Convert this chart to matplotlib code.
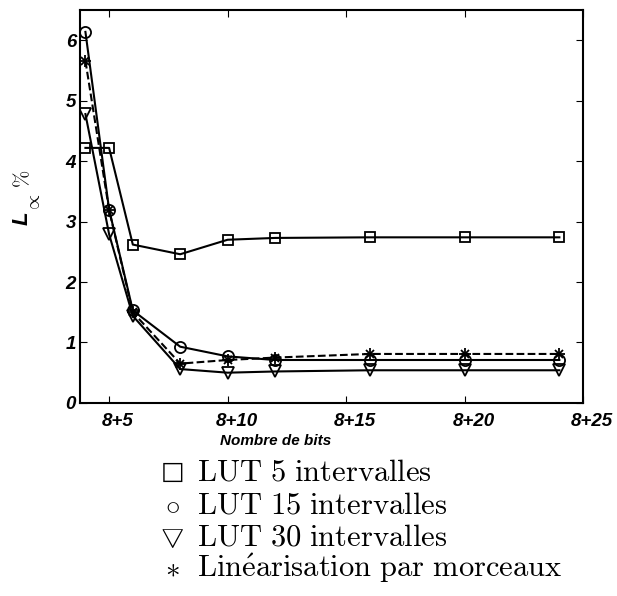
import matplotlib
matplotlib.use('Agg')
import matplotlib.pyplot as plt
import matplotlib.transforms as mtransforms

# Nombre de bits: 8 + n
bits = [4, 5, 6, 8, 10, 12, 16, 20, 24]
lut5 = [4.22, 4.22, 2.62, 2.46, 2.70, 2.73, 2.74, 2.74, 2.74]
lut15 = [6.14, 3.20, 1.53, 0.93, 0.77, 0.71, 0.71, 0.71, 0.71]
lut30 = [4.78, 2.79, 1.44, 0.56, 0.50, 0.52, 0.54, 0.54, 0.54]
lineaire = [5.66, 3.19, 1.50, 0.65, 0.71, 0.75, 0.81, 0.81, 0.81]

xticks = [5, 10, 15, 20, 25]
xtick_labels = ['8+5', '8+10', '8+15', '8+20', '8+25']
yticks = [0, 1, 2, 3, 4, 5, 6]

legend_labels = [r'$\mathrm{LUT\ 5\ intervalles}$',
                 r'$\mathrm{LUT\ 15\ intervalles}$',
                 r'$\mathrm{LUT\ 30\ intervalles}$',
                 r'$\mathrm{Lin\acute{e}arisation\ par\ morceaux}$']
legend_symbols = ['\u25a1', r'$\circ$', r'$\bigtriangledown$', r'$\ast$']
symbol_sizes = [18, 21, 19, 21]

plt.rcParams['mathtext.fontset'] = 'cm'
tick_font = dict(family='Liberation Sans', weight='bold', style='italic')

fig = plt.figure(figsize=(6.17, 5.96), dpi=100, facecolor='white')
ax = fig.add_axes([0.130, 0.324, 0.815, 0.659])

mk = dict(color='black', lw=1.5, mfc='none', mec='black', mew=1.3)
ax.plot(bits, lut5, marker='s', ms=7, **mk)
ax.plot(bits, lut15, marker='o', ms=8, **mk)
ax.plot(bits, lut30, marker='v', ms=8, **mk)
ax.plot(bits, lineaire, ls='--', **dict(color='black', lw=1.5))
ax.plot(bits, lineaire, ls='none', marker='+', ms=8, mew=1.3, color='black')
ax.plot(bits, lineaire, ls='none', marker='x', ms=6, mew=1.3, color='black')

ax.set_xlim(3.78, 25)
ax.set_ylim(0, 6.5)
ax.set_xticks(xticks)
ax.set_xticklabels(xtick_labels, fontsize=13.5, **tick_font)
ax.set_yticks(yticks)
ax.set_yticklabels([str(v) for v in yticks], fontsize=13.5, **tick_font)
ax.tick_params(direction='in', top=True, right=True, length=5, width=0.8)
ax.tick_params(axis='x', pad=7)
ax.tick_params(axis='y', pad=3)
shift = mtransforms.ScaledTranslation(0.09, 0, fig.dpi_scale_trans)
for lbl in ax.get_xticklabels():
    lbl.set_transform(lbl.get_transform() + shift)
for s in ax.spines.values():
    s.set_linewidth(1.5)

# y label: L (bold italic) with serif subscript and percent
fig.text(0.036, 0.634, 'L', rotation=90, fontsize=16, ha='center', va='center',
         **tick_font)
fig.text(0.056, 0.659, r'$\propto$', rotation=90, fontsize=14,
         ha='center', va='center')
fig.text(0.037, 0.700, r'$\%$', rotation=90, fontsize=15,
         ha='center', va='center')

fig.text(0.446, 0.26, 'Nombre de bits', fontsize=11, ha='center', va='center',
         **tick_font)

rows_y = [0.208, 0.152, 0.099, 0.046]
for sym, size, lab, y in zip(legend_symbols, symbol_sizes, legend_labels, rows_y):
    fig.text(0.279, y, sym, fontsize=size, ha='center', va='center',
             family='DejaVu Sans')
    fig.text(0.32, y, lab, fontsize=22, ha='left', va='center')

fig.savefig('out.png', dpi=100)
